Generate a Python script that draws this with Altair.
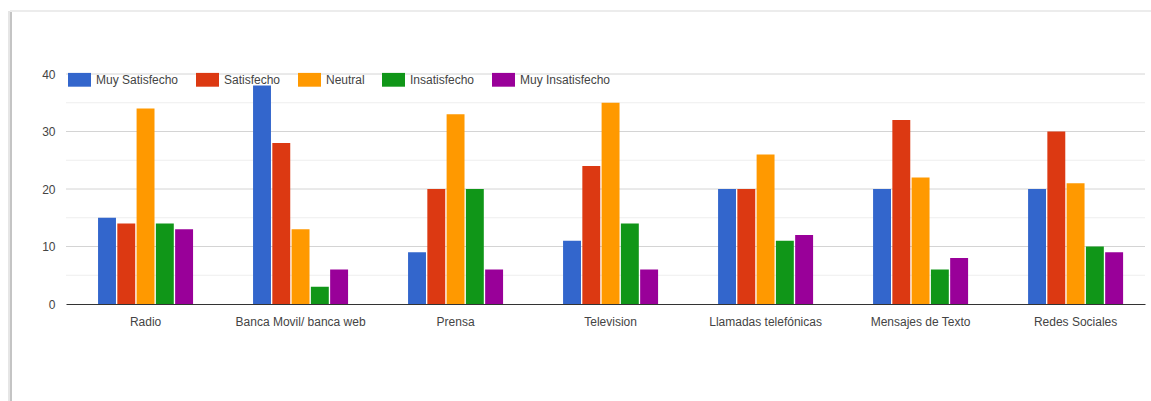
import altair as alt
import pandas as pd

categories = ["Radio", "Banca Movil/ banca web", "Prensa", "Television",
              "Llamadas telefónicas", "Mensajes de Texto", "Redes Sociales"]
series = ["Muy Satisfecho", "Satisfecho", "Neutral", "Insatisfecho", "Muy Insatisfecho"]
colors = ["#3366cc", "#dc3912", "#ff9900", "#109618", "#990099"]

muy_satisfecho = [15, 38, 9, 11, 20, 20, 20]
satisfecho = [14, 28, 20, 24, 20, 32, 30]
neutral = [34, 13, 33, 35, 26, 22, 21]
insatisfecho = [14, 3, 20, 14, 11, 6, 10]
muy_insatisfecho = [13, 6, 6, 6, 12, 8, 9]

major_ticks = [0, 10, 20, 30, 40]
minor_ticks = [5, 15, 25, 35]

values = [muy_satisfecho, satisfecho, neutral, insatisfecho, muy_insatisfecho]
rows = []
for s, vals in zip(series, values):
    for c, v in zip(categories, vals):
        rows.append({"canal": c, "respuesta": s, "valor": v})
df = pd.DataFrame(rows)
minor_df = pd.DataFrame({"v": minor_ticks})
major_df = pd.DataFrame({"v": major_ticks[1:]})

FONT = "Liberation Sans"
W, H = 1079, 230

y_scale = alt.Scale(domain=[0, 40], nice=False)

# gridlines: light minor ones between the labelled ticks, darker major ones
minor_grid = alt.Chart(minor_df).mark_rule(color="#eeeeee", strokeWidth=1).encode(
    y=alt.Y("v:Q", scale=y_scale, axis=None)
)
major_grid = alt.Chart(major_df).mark_rule(color="#d4d4d4", strokeWidth=1).encode(
    y=alt.Y("v:Q", scale=y_scale, axis=None)
)

bars = alt.Chart(df).mark_bar().encode(
    x=alt.X(
        "canal:N",
        sort=categories,
        scale=alt.Scale(paddingInner=0.387, paddingOuter=0.174, align=0.594),
        axis=alt.Axis(
            title=None, labelAngle=0, ticks=False, domain=True,
            domainColor="#333333", domainWidth=1, labelPadding=12,
            labelFont=FONT, labelFontSize=12, labelColor="#444444",
        ),
    ),
    xOffset=alt.XOffset("respuesta:N", sort=series, scale=alt.Scale(paddingInner=0.07)),
    y=alt.Y(
        "valor:Q",
        scale=y_scale,
        axis=alt.Axis(
            title=None, values=major_ticks, domain=False, ticks=False, grid=False,
            labelPadding=11,
            labelFont=FONT, labelFontSize=12, labelColor="#444444",
        ),
    ),
    color=alt.Color(
        "respuesta:N",
        sort=series,
        scale=alt.Scale(domain=series, range=colors),
        legend=alt.Legend(
            title=None, orient="none", direction="horizontal",
            legendX=2, legendY=-6, columns=5, columnPadding=17,
            symbolType="M-1,-0.6H1V0.6H-1Z", symbolSize=529,
            symbolStrokeWidth=0, symbolOpacity=1, labelOffset=5,
            labelFont=FONT, labelFontSize=12, labelColor="#444444",
        ),
    ),
)

# page frame: soft edge on the left, light edge on top
frame_left = alt.Chart(minor_df).mark_rule(color="#c4c4c4", strokeWidth=2).encode(
    x=alt.value(-55), y=alt.value(-63), y2=alt.value(401 - 74)
)
frame_left2 = alt.Chart(minor_df).mark_rule(color="#e6e6e6", strokeWidth=2).encode(
    x=alt.value(-57), y=alt.value(-63), y2=alt.value(401 - 74)
)
frame_top = alt.Chart(minor_df).mark_rule(color="#ececec", strokeWidth=2).encode(
    x=alt.value(-56), x2=alt.value(1151 - 66), y=alt.value(-63)
)

chart = alt.layer(minor_grid, major_grid, bars, frame_left2, frame_left, frame_top).resolve_axis(
    y="independent"
).properties(
    width=W, height=H,
    autosize=alt.AutoSizeParams(type="none"),
    padding={"left": 66, "top": 74, "right": 6, "bottom": 97},
    background="white",
).configure_view(stroke=None)

chart.save("out.html", embed_options={"renderer": "svg", "actions": False})
